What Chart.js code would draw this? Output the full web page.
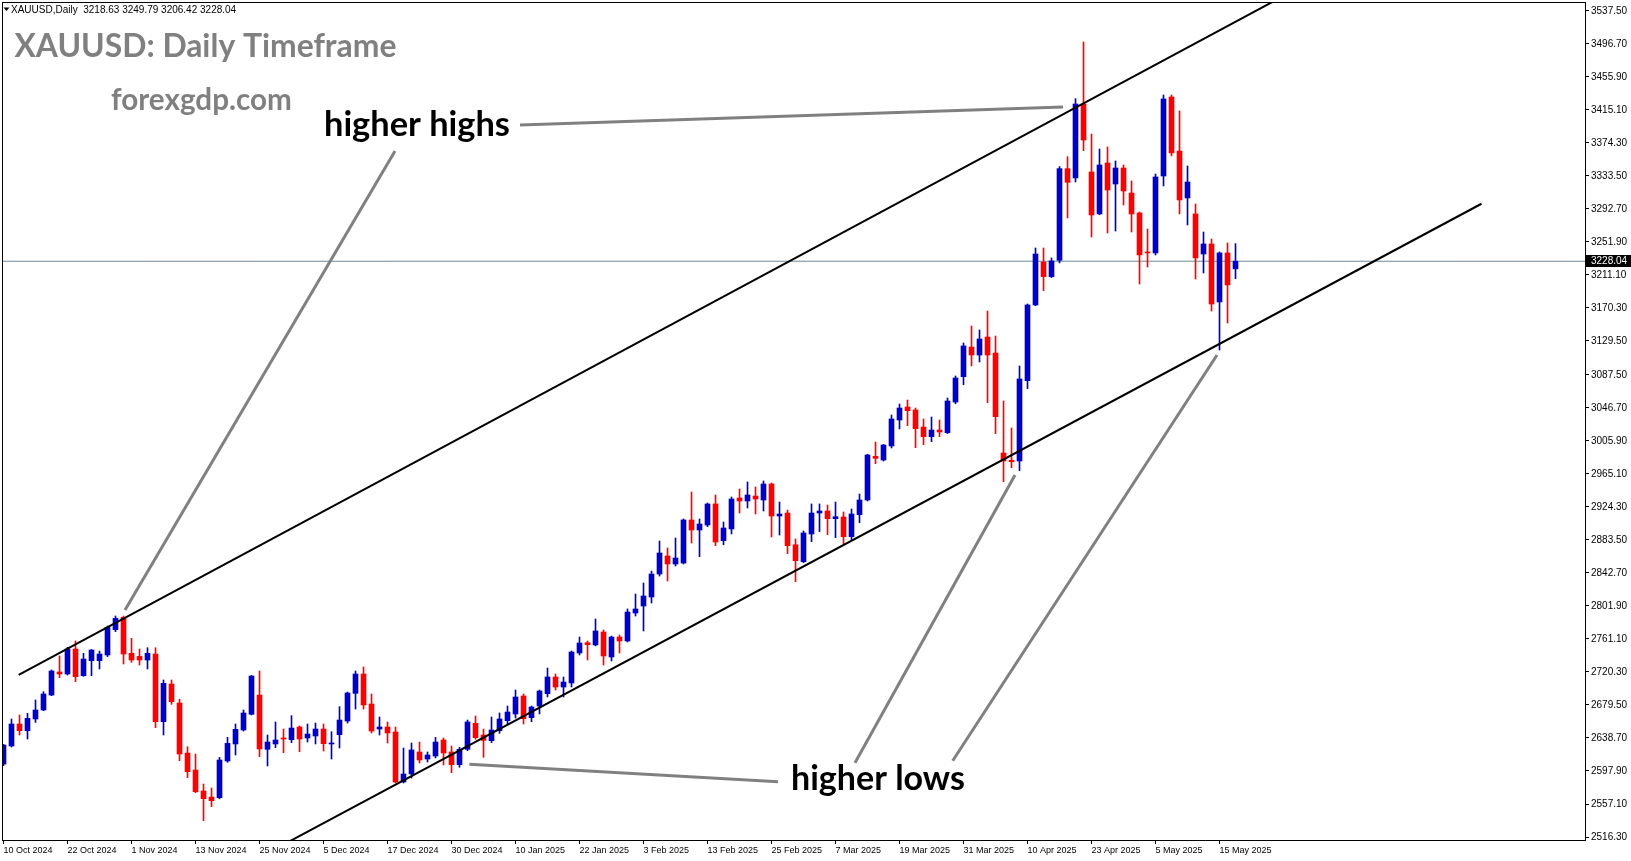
<!DOCTYPE html>
<html lang="en">
<head>
<meta charset="UTF-8">
<title>XAUUSD Daily Timeframe</title>
<script src="https://cdn.jsdelivr.net/npm/chart.js@4.4.1/dist/chart.umd.min.js"></script>
<style>
    body {
        margin: 0;
        background: #fff;
    }
    #chart {
        display: block;
    }
</style>
</head>
<body>
<canvas id="chart" width="1631" height="861"></canvas>
<script>
    // daily candles, bar 0 = 10 Oct 2024 ... bar 154 = 19 May 2025
    const opens = [
        2606.5, 2628.8, 2656.0, 2647.7, 2662.2, 2673.3, 2691.8, 2720.3, 2717.8, 2748.7,
        2715.7, 2734.3, 2734.3, 2741.3, 2772.6, 2787.9, 2743.4, 2739.6, 2735.1, 2742.5,
        2658.9, 2705.4, 2682.0, 2620.1, 2599.1, 2573.2, 2565.7, 2564.9, 2610.3, 2631.3,
        2648.6, 2668.0, 2691.8, 2624.7, 2631.3, 2638.7, 2636.6, 2652.3, 2638.7, 2641.2,
        2649.8, 2631.3, 2642.8, 2659.7, 2693.9, 2717.8, 2680.7, 2649.8, 2652.3, 2646.1,
        2584.3, 2594.2, 2621.4, 2612.7, 2616.4, 2636.2, 2621.4, 2605.7, 2624.7, 2656.8,
        2642.4, 2635.4, 2647.7, 2660.1, 2668.4, 2690.6, 2663.8, 2678.2, 2693.5, 2714.1,
        2701.7, 2706.7, 2743.8, 2756.5, 2753.7, 2769.7, 2738.8, 2763.5, 2758.6, 2793.2,
        2801.9, 2813.0, 2841.4, 2863.7, 2853.8, 2855.0, 2908.2, 2895.8, 2902.0, 2928.0,
        2882.6, 2897.1, 2935.4, 2931.7, 2937.8, 2932.9, 2952.7, 2913.1, 2916.8, 2877.6,
        2856.6, 2890.9, 2916.8, 2919.3, 2909.8, 2911.9, 2887.5, 2914.7, 2932.9, 2986.9,
        2982.3, 2999.7, 3031.8, 3047.9, 3044.2, 3023.1, 3011.2, 3019.4, 3016.1, 3054.0,
        3085.3, 3122.0, 3112.1, 3134.4, 3114.6, 2991.0, 2982.0, 2981.1, 3080.4, 3174.0,
        3227.1, 3209.0, 3229.2, 3342.5, 3331.0, 3422.4, 3338.4, 3286.5, 3349.5, 3323.5,
        3343.3, 3312.4, 3287.7, 3239.5, 3238.3, 3333.4, 3431.1, 3364.3, 3306.3, 3286.5,
        3237.0, 3249.4, 3177.7, 3238.3, 3218.63
    ];
    const highs = [
        2630.8, 2662.2, 2667.1, 2669.2, 2685.7, 2696.0, 2722.8, 2740.1, 2750.8, 2758.6,
        2743.4, 2748.0, 2746.2, 2777.1, 2789.5, 2789.5, 2761.9, 2748.7, 2750.3, 2750.3,
        2710.4, 2710.4, 2686.5, 2627.9, 2618.9, 2581.8, 2576.9, 2614.8, 2639.5, 2656.0,
        2673.3, 2716.0, 2721.5, 2642.4, 2658.5, 2649.8, 2666.3, 2653.5, 2656.0, 2657.2,
        2656.0, 2646.5, 2677.4, 2695.5, 2721.5, 2726.5, 2693.1, 2664.6, 2658.5, 2652.3,
        2626.3, 2632.5, 2633.7, 2621.4, 2639.5, 2638.7, 2628.8, 2627.2, 2660.9, 2665.9,
        2649.8, 2664.6, 2669.6, 2678.2, 2698.0, 2693.1, 2678.2, 2698.0, 2725.2, 2717.8,
        2714.1, 2746.2, 2763.5, 2758.6, 2785.8, 2772.2, 2764.7, 2766.0, 2798.2, 2816.7,
        2830.3, 2845.1, 2882.2, 2873.6, 2885.9, 2909.4, 2942.8, 2909.4, 2929.2, 2939.1,
        2905.7, 2936.6, 2946.5, 2955.2, 2949.0, 2956.4, 2953.9, 2930.4, 2920.5, 2884.7,
        2894.6, 2928.0, 2928.0, 2926.7, 2930.4, 2918.1, 2921.8, 2940.3, 2989.5, 3004.6,
        3001.5, 3038.0, 3051.6, 3056.5, 3046.6, 3033.0, 3035.5, 3031.8, 3059.0, 3086.2,
        3127.0, 3148.0, 3143.1, 3166.5, 3135.6, 3055.3, 3021.9, 3098.6, 3175.2, 3244.4,
        3244.4, 3232.1, 3345.0, 3357.3, 3429.0, 3499.1, 3385.3, 3366.8, 3369.3, 3352.0,
        3347.0, 3327.3, 3288.9, 3267.9, 3335.9, 3433.6, 3433.6, 3413.8, 3345.8, 3298.8,
        3264.2, 3255.5, 3239.5, 3250.6, 3249.79
    ];
    const lows = [
        2604.5, 2627.6, 2642.4, 2637.4, 2658.0, 2672.5, 2691.0, 2713.3, 2716.5, 2708.3,
        2714.9, 2715.7, 2724.0, 2739.2, 2770.1, 2730.2, 2732.2, 2728.9, 2724.0, 2651.4,
        2642.4, 2680.3, 2610.6, 2589.6, 2571.0, 2536.5, 2553.8, 2563.5, 2608.6, 2617.7,
        2647.3, 2667.2, 2615.6, 2604.1, 2626.7, 2620.5, 2632.9, 2621.7, 2633.7, 2631.3,
        2622.6, 2612.7, 2626.3, 2657.2, 2674.5, 2674.5, 2644.9, 2642.4, 2632.5, 2583.1,
        2583.1, 2589.2, 2607.8, 2609.0, 2614.0, 2605.3, 2595.8, 2602.5, 2623.0, 2637.1,
        2614.8, 2632.9, 2644.5, 2654.8, 2663.4, 2656.0, 2658.8, 2668.4, 2689.4, 2698.0,
        2689.4, 2701.7, 2741.3, 2735.1, 2752.5, 2728.9, 2733.9, 2743.8, 2757.4, 2789.5,
        2771.0, 2805.6, 2838.9, 2832.8, 2851.3, 2853.8, 2879.7, 2862.8, 2899.9, 2876.4,
        2877.6, 2890.9, 2916.8, 2923.0, 2915.6, 2919.3, 2887.2, 2889.6, 2866.5, 2831.9,
        2855.5, 2881.4, 2893.7, 2890.0, 2886.3, 2878.9, 2882.6, 2904.8, 2931.7, 2977.8,
        2981.1, 2997.2, 3020.7, 3024.8, 2997.6, 3001.3, 3005.0, 3011.2, 3015.0, 3052.0,
        3075.4, 3098.6, 3103.5, 3053.2, 3014.9, 2955.5, 2972.8, 2969.1, 3070.5, 3173.0,
        3191.7, 3207.8, 3226.0, 3281.5, 3326.0, 3364.7, 3258.0, 3285.5, 3263.0, 3265.4,
        3297.6, 3264.2, 3199.9, 3220.9, 3235.8, 3321.1, 3358.2, 3286.5, 3272.9, 3206.1,
        3213.5, 3166.5, 3118.3, 3151.7, 3206.42
    ];
    const closes = [
        2630.0, 2656.0, 2647.7, 2663.0, 2673.3, 2693.1, 2721.5, 2717.8, 2748.7, 2714.5,
        2736.3, 2747.5, 2742.5, 2775.5, 2786.6, 2742.5, 2735.1, 2735.1, 2743.4, 2658.9,
        2706.3, 2683.6, 2618.9, 2597.0, 2572.3, 2563.7, 2561.2, 2611.5, 2632.1, 2649.4,
        2669.6, 2715.3, 2625.1, 2633.7, 2636.2, 2637.4, 2651.0, 2637.4, 2643.6, 2649.8,
        2631.7, 2632.5, 2660.9, 2694.3, 2717.8, 2679.5, 2647.3, 2652.3, 2644.9, 2584.3,
        2594.2, 2623.9, 2611.5, 2617.7, 2633.7, 2620.1, 2605.7, 2624.7, 2658.5, 2639.1,
        2635.8, 2648.6, 2662.2, 2670.8, 2689.4, 2662.5, 2677.0, 2696.8, 2714.1, 2701.7,
        2707.9, 2745.0, 2756.1, 2754.0, 2771.0, 2740.1, 2763.5, 2758.6, 2794.4, 2798.2,
        2814.2, 2841.4, 2867.4, 2853.8, 2861.2, 2908.2, 2895.8, 2903.2, 2928.0, 2881.0,
        2898.3, 2934.1, 2931.7, 2939.1, 2934.1, 2952.7, 2913.1, 2915.6, 2876.4, 2857.9,
        2892.1, 2916.8, 2919.3, 2909.8, 2912.3, 2887.5, 2915.6, 2932.9, 2988.5, 2984.4,
        3000.9, 3033.0, 3046.6, 3043.3, 3021.1, 3011.2, 3019.4, 3017.0, 3055.3, 3083.7,
        3123.3, 3112.1, 3131.9, 3112.1, 3035.9, 2981.1, 2980.3, 3082.5, 3174.0, 3237.0,
        3209.0, 3228.4, 3342.5, 3325.6, 3422.4, 3377.9, 3285.2, 3347.0, 3316.1, 3343.3,
        3314.9, 3286.5, 3235.8, 3238.3, 3332.2, 3428.6, 3361.9, 3303.8, 3326.0, 3232.1,
        3249.4, 3175.2, 3238.3, 3198.7, 3228.04
    ];

    // bottom axis, one label every 8 bars
    const dateLabels = [
        '10 Oct 2024', '22 Oct 2024', '1 Nov 2024', '13 Nov 2024', '25 Nov 2024',
        '5 Dec 2024', '17 Dec 2024', '30 Dec 2024', '10 Jan 2025', '22 Jan 2025',
        '3 Feb 2025', '13 Feb 2025', '25 Feb 2025', '7 Mar 2025', '19 Mar 2025',
        '31 Mar 2025', '10 Apr 2025', '23 Apr 2025', '5 May 2025', '15 May 2025'
    ];
    const dateStep = 8;

    // right axis ticks as the terminal prints them
    const priceTicks = [
        2516.30, 2557.10, 2597.90, 2638.70, 2679.50, 2720.30, 2761.10, 2801.90, 2842.70,
        2883.50, 2924.30, 2965.10, 3005.90, 3046.70, 3087.50, 3129.50, 3170.30, 3211.10,
        3251.90, 3292.70, 3333.50, 3374.30, 3415.10, 3455.90, 3496.70, 3537.50
    ];

    const lastPrice = 3228.04;
    const headerText = 'XAUUSD,Daily  3218.63 3249.79 3206.42 3228.04';

    // channel lines, as (bar index, price)
    const upperChannel = [{x: 1.9, y: 2716.6}, {x: 160, y: 3555.9}];
    const lowerChannel = [{x: 30, y: 2480.5}, {x: 184.75, y: 3299.1}];

    // grey pointer lines from the two captions
    const highPointers = [
        [{x: 64.56, y: 3396.5}, {x: 132.44, y: 3418.7}],
        [{x: 48.94, y: 3364.3}, {x: 15.19, y: 2796.9}]
    ];
    const lowPointers = [
        [{x: 96.81, y: 2584.7}, {x: 58.23, y: 2606.2}],
        [{x: 106.44, y: 2608.1}, {x: 126.44, y: 2963.8}],
        [{x: 118.65, y: 2610.6}, {x: 151.69, y: 3112.1}]
    ];

    const BULL = '#0000CD';
    const BEAR = '#FF0000';
    const X_MIN = -0.1875, X_MAX = 197.6875;
    const Y_MIN = 2512.6, Y_MAX = 3548.5;

    const bars = opens.map((o, i) => i);
    const barColors = bars.map(i => closes[i] >= opens[i] ? BULL : BEAR);

    function lineSet(points, color, width) {
        return {
            type: 'line',
            data: points,
            borderColor: color,
            borderWidth: width,
            pointRadius: 0,
            fill: false,
            tension: 0,
            clip: 0,
            order: 0
        };
    }

    function fitSize(ctx, text, weight, family, width) {
        ctx.font = weight + ' 100px ' + family;
        return 100 * width / ctx.measureText(text).width;
    }

    const captions = [
        {text: 'XAUUSD: Daily Timeframe', left: 14.5, base: 57, width: 382, color: '#808080'},
        {text: 'forexgdp.com', left: 111, base: 110, width: 181, color: '#808080'},
        {text: 'higher highs', left: 324, base: 136, width: 186, color: '#000'},
        {text: 'higher lows', left: 791, base: 790, width: 174, color: '#000'}
    ];

    const decorPlugin = {
        id: 'decor',
        afterDatasetsDraw(chart) {
            const ctx = chart.ctx;
            ctx.save();
            ctx.textAlign = 'left';
            ctx.textBaseline = 'alphabetic';
            captions.forEach(c => {
                const size = fitSize(ctx, c.text, 'bold', 'Lato', c.width);
                ctx.font = 'bold ' + size + 'px Lato';
                ctx.fillStyle = c.color;
                ctx.fillText(c.text, c.left, c.base);
            });

            // header line with the little triangle
            ctx.fillStyle = '#000';
            ctx.beginPath();
            ctx.moveTo(3.5, 7.5);
            ctx.lineTo(9.5, 7.5);
            ctx.lineTo(6.5, 11);
            ctx.closePath();
            ctx.fill();
            ctx.font = '10px "Liberation Sans"';
            ctx.textBaseline = 'middle';
            ctx.fillText(headerText, 11, 10);
            ctx.restore();
        },
        afterDraw(chart) {
            const ctx = chart.ctx;
            const a = chart.chartArea;
            ctx.save();
            ctx.strokeStyle = '#000';
            ctx.lineWidth = 1;
            ctx.strokeRect(a.left + 0.5, a.top + 0.5, a.right - a.left, a.bottom - a.top);

            // current price tag on the right axis
            const y = Math.round(chart.scales.y.getPixelForValue(lastPrice));
            ctx.fillStyle = '#000';
            ctx.fillRect(a.right + 1, y - 6, chart.width - a.right - 1, 12);
            ctx.fillStyle = '#fff';
            ctx.font = '10px "Liberation Sans"';
            ctx.textBaseline = 'middle';
            ctx.textAlign = 'left';
            ctx.fillText(lastPrice.toFixed(2), a.right + 6, y + 0.5);
            ctx.restore();
        }
    };

    Chart.defaults.font.family = '"Liberation Sans", Arial, sans-serif';
    Chart.defaults.color = '#000';

    new Chart(document.getElementById('chart'), {
        type: 'bar',
        data: {
            datasets: [
                lineSet(upperChannel, '#000', 2),
                lineSet(lowerChannel, '#000', 2),
                ...highPointers.map(p => lineSet(p, '#808080', 3)),
                ...lowPointers.map(p => lineSet(p, '#808080', 3)),
                {
                    // bodies
                    data: bars.map(i => ({x: i, y: [opens[i], closes[i]]})),
                    backgroundColor: barColors,
                    borderWidth: 0,
                    barThickness: 5,
                    minBarLength: 1,
                    grouped: false,
                    order: 1
                },
                {
                    // wicks
                    data: bars.map(i => ({x: i, y: [lows[i], highs[i]]})),
                    backgroundColor: barColors,
                    borderWidth: 0,
                    barThickness: 1,
                    grouped: false,
                    order: 2
                },
                Object.assign(lineSet([{x: X_MIN, y: lastPrice}, {x: X_MAX, y: lastPrice}], '#708898', 1), {order: 3})
            ]
        },
        options: {
            responsive: false,
            animation: false,
            devicePixelRatio: 1,
            layout: {padding: {top: 2, left: 2, right: 0, bottom: 0}},
            plugins: {
                legend: {display: false},
                tooltip: {enabled: false}
            },
            scales: {
                x: {
                    type: 'linear',
                    min: X_MIN,
                    max: X_MAX,
                    offset: false,
                    border: {display: false},
                    grid: {
                        offset: false,
                        drawOnChartArea: false,
                        drawTicks: true,
                        tickLength: 4,
                        color: '#000'
                    },
                    ticks: {
                        autoSkip: false,
                        maxRotation: 0,
                        minRotation: 0,
                        align: 'start',
                        padding: 1,
                        font: {size: 9},
                        callback: v => dateLabels[v / dateStep]
                    },
                    afterBuildTicks: s => {
                        s.ticks = dateLabels.map((d, k) => ({value: k * dateStep}));
                    },
                    afterFit: s => {
                        s.height = 21;
                        s.paddingLeft = 0;
                        s.paddingRight = 0;
                    }
                },
                y: {
                    type: 'linear',
                    position: 'right',
                    min: Y_MIN,
                    max: Y_MAX,
                    beginAtZero: false,
                    border: {display: false},
                    grid: {
                        drawOnChartArea: false,
                        drawTicks: true,
                        tickLength: 4,
                        color: '#000'
                    },
                    ticks: {
                        padding: 2,
                        font: {size: 10},
                        callback: v => v.toFixed(2)
                    },
                    afterBuildTicks: s => {
                        s.ticks = priceTicks.map(v => ({value: v}));
                    },
                    afterFit: s => {
                        s.width = 46;
                        s.paddingTop = 0;
                        s.paddingBottom = 0;
                    }
                }
            }
        },
        plugins: [decorPlugin]
    });
</script>
</body>
</html>
